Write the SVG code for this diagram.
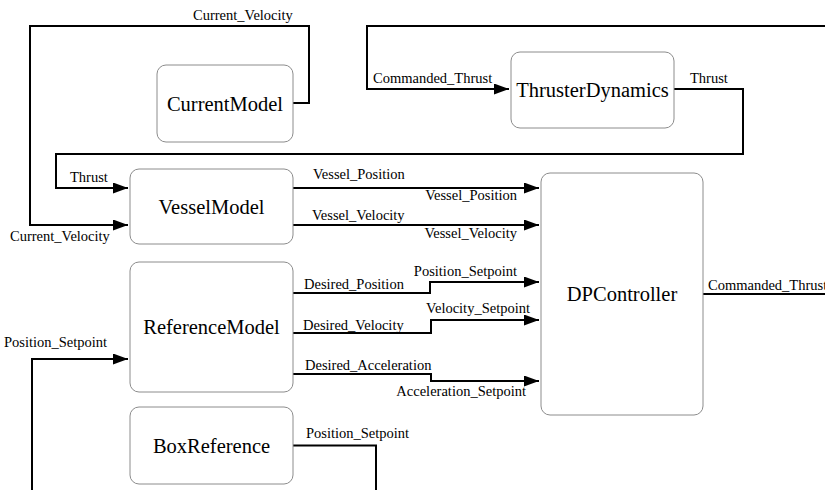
<svg xmlns="http://www.w3.org/2000/svg" width="825" height="490" viewBox="0 0 825 490">
<style>
.node{fill:#fff;stroke:#8c8c8c;stroke-width:1}
.nt{font-family:"Liberation Serif","Times New Roman",serif;font-size:20.5px;fill:#000;text-anchor:middle}
.lbl{font-family:"Liberation Serif","Times New Roman",serif;font-size:14.5px;fill:#000}
.end{text-anchor:end}
.c{fill:none;stroke:#000;stroke-width:2}
</style>
<defs>
<marker id="arr" markerUnits="userSpaceOnUse" markerWidth="15" markerHeight="11" refX="15" refY="5.5" orient="auto">
<path d="M0,0 L15,5.5 L0,11 z" fill="#000"/>
</marker>
</defs>
<rect width="825" height="490" fill="#fff"/>
<g id="connectors">
<path class="c" d="M293,103 H309 V26 H30 V225 H128" marker-end="url(#arr)"/>
<path class="c" d="M825,26 H367 V89 H509" marker-end="url(#arr)"/>
<path class="c" d="M674,89 H743 V154 H56 V188 H128" marker-end="url(#arr)"/>
<path class="c" d="M293,188 H539" marker-end="url(#arr)"/>
<path class="c" d="M293,225 H539" marker-end="url(#arr)"/>
<path class="c" d="M293,293 H430 V282 H539" marker-end="url(#arr)"/>
<path class="c" d="M293,333 H431 V320 H539" marker-end="url(#arr)"/>
<path class="c" d="M293,374 H431 V381 H539" marker-end="url(#arr)"/>
<path class="c" d="M32,490 V359 H128" marker-end="url(#arr)"/>
<path class="c" d="M293,445.5 H376 V490"/>
<path class="c" d="M703,294 H825"/>
<text class="lbl" x="193" y="20">Current_Velocity</text>
<text class="lbl" x="373" y="83">Commanded_Thrust</text>
<text class="lbl" x="690" y="83">Thrust</text>
<text class="lbl" x="70" y="182">Thrust</text>
<text class="lbl" x="10" y="241">Current_Velocity</text>
<text class="lbl" x="313" y="179">Vessel_Position</text>
<text class="lbl end" x="517" y="200">Vessel_Position</text>
<text class="lbl" x="312" y="220">Vessel_Velocity</text>
<text class="lbl end" x="517" y="238">Vessel_Velocity</text>
<text class="lbl" x="304" y="289">Desired_Position</text>
<text class="lbl end" x="517" y="276">Position_Setpoint</text>
<text class="lbl" x="303" y="330">Desired_Velocity</text>
<text class="lbl end" x="530" y="313">Velocity_Setpoint</text>
<text class="lbl" x="305" y="370">Desired_Acceleration</text>
<text class="lbl end" x="526" y="396">Acceleration_Setpoint</text>
<text class="lbl" x="4" y="347">Position_Setpoint</text>
<text class="lbl" x="306" y="438">Position_Setpoint</text>
<text class="lbl" x="708" y="290">Commanded_Thrust</text>
</g>
<g id="CurrentModel">
<rect class="node" x="157" y="65" width="136" height="77" rx="9"/>
<text class="nt" x="225" y="111">CurrentModel</text>
</g>
<g id="ThrusterDynamics">
<rect class="node" x="511" y="52" width="163" height="76" rx="9"/>
<text class="nt" x="592.5" y="97">ThrusterDynamics</text>
</g>
<g id="VesselModel">
<rect class="node" x="130" y="169" width="163" height="75" rx="9"/>
<text class="nt" x="211.5" y="214">VesselModel</text>
</g>
<g id="ReferenceModel">
<rect class="node" x="130" y="262" width="163" height="130" rx="9"/>
<text class="nt" x="211.5" y="334">ReferenceModel</text>
</g>
<g id="BoxReference">
<rect class="node" x="130" y="407" width="163" height="77" rx="9"/>
<text class="nt" x="211.5" y="453">BoxReference</text>
</g>
<g id="DPController">
<rect class="node" x="541" y="173" width="162" height="242" rx="9"/>
<text class="nt" x="622" y="301">DPController</text>
</g>
</svg>
